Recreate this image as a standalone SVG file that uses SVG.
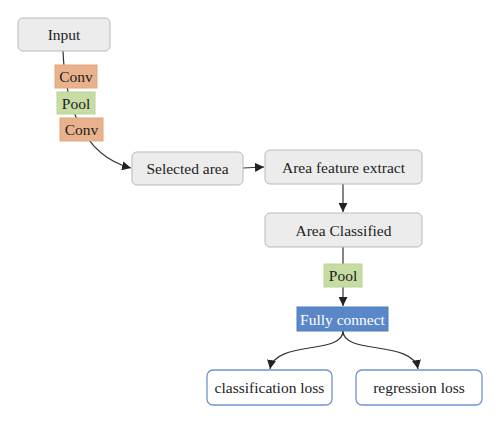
<svg xmlns="http://www.w3.org/2000/svg" width="500" height="423" viewBox="0 0 500 423">
<style>
text{font-family:"Liberation Serif","DejaVu Serif",serif;font-size:15.5px;fill:#222;text-anchor:middle;dominant-baseline:central}
.gray{fill:#ececec;stroke:#b9b9b9;stroke-width:1}
.conv{fill:#e9b28c;stroke:#e2a67c;stroke-width:1}
.pool{fill:#c6dca2;stroke:#bcd496;stroke-width:1}
.fc{fill:#5a87c8;stroke:#4f7cbf;stroke-width:1}
.loss{fill:#fff;stroke:#6f95d0;stroke-width:1.3}
.edge{fill:none;stroke:#333;stroke-width:1.2}
</style>
<defs>
<marker id="arr" viewBox="0 0 10 10" refX="10" refY="5" markerWidth="9" markerHeight="9" markerUnits="userSpaceOnUse" orient="auto">
<path d="M0,0 L10,5 L0,10 z" fill="#222"/>
</marker>
</defs>
<g id="connectors">
<path class="edge" d="M63,51 C65,100 80,155 131,168" marker-end="url(#arr)"/>
<path class="edge" d="M243,168 L264,167" marker-end="url(#arr)"/>
<path class="edge" d="M343,184 L343,212" marker-end="url(#arr)"/>
<path class="edge" d="M343,247 L343,264"/>
<path class="edge" d="M343,287 L343,306" marker-end="url(#arr)"/>
<path class="edge" d="M343,331 C343,355 275,340 270,369" marker-end="url(#arr)"/>
<path class="edge" d="M343,331 C343,355 413,340 418,369" marker-end="url(#arr)"/>
</g>
<g id="input"><rect class="gray" x="18" y="18" width="92" height="33" rx="5"/><text x="64" y="34.5">Input</text></g>
<g id="conv1"><rect class="conv" x="55" y="65" width="42" height="23"/><text x="76" y="76.5">Conv</text></g>
<g id="pool1"><rect class="pool" x="57" y="92" width="38" height="22"/><text x="76" y="103">Pool</text></g>
<g id="conv2"><rect class="conv" x="60" y="118" width="43" height="23"/><text x="81.5" y="129.5">Conv</text></g>
<g id="selected"><rect class="gray" x="132" y="152" width="111" height="33" rx="5"/><text x="187.5" y="168.5">Selected area</text></g>
<g id="extract"><rect class="gray" x="265" y="150" width="157" height="34" rx="5"/><text x="343.5" y="167">Area feature extract</text></g>
<g id="classified"><rect class="gray" x="265" y="213" width="157" height="34" rx="5"/><text x="343.5" y="230">Area Classified</text></g>
<g id="pool2"><rect class="pool" x="324" y="264" width="38" height="23"/><text x="343" y="275.5">Pool</text></g>
<g id="fully"><rect class="fc" x="297" y="307" width="91" height="24"/><text x="342.5" y="319" style="fill:#fff">Fully connect</text></g>
<g id="closs"><rect class="loss" x="207" y="370" width="125" height="35" rx="6"/><text x="269.5" y="387.5">classification loss</text></g>
<g id="rloss"><rect class="loss" x="356" y="370" width="126" height="35" rx="6"/><text x="419" y="387.5">regression loss</text></g>
</svg>
